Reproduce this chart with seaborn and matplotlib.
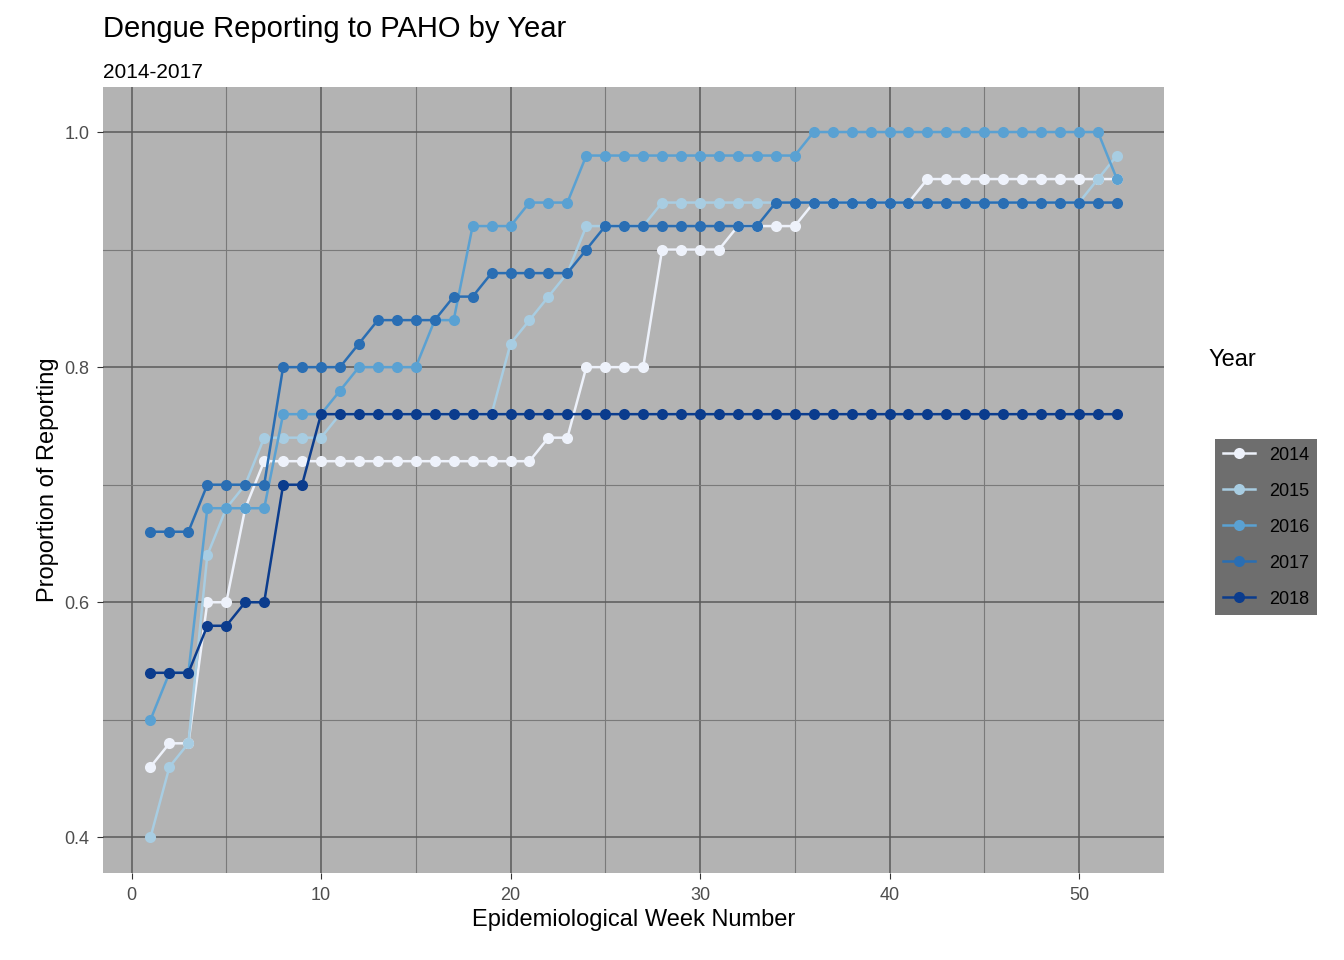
import pandas as pd
import numpy as np
import matplotlib.pyplot as plt
import seaborn as sns
from matplotlib.ticker import MultipleLocator

weeks = list(range(1, 53))
years = ["2014", "2015", "2016", "2017", "2018"]

p2014 = [.46, .48, .48, .60, .60, .68] + [.72] * 15 + [.74, .74] + [.80] * 4 + [.90] * 4 + [.92] * 4 + [.94] * 6 + [.96] * 11
p2015 = [.40, .46, .48, .64, .68, .70, .74, .74, .74, .74] + [.76] * 9 + [.82, .84, .86, .88] + [.92] * 4 + [.94] * 23 + [.96, .98]
p2016 = [.50, .54, .54, .68, .68, .68, .68, .76, .76, .76, .78, .80, .80, .80, .80, .84, .84, .92, .92, .92, .94, .94, .94] + [.98] * 12 + [1.0] * 16 + [.96]
p2017 = [.66] * 3 + [.70] * 4 + [.80] * 4 + [.82] + [.84] * 4 + [.86, .86] + [.88] * 5 + [.90] + [.92] * 9 + [.94] * 19
p2018 = [.54] * 3 + [.58, .58, .60, .60, .70, .70] + [.76] * 43

series = [p2014, p2015, p2016, p2017, p2018]
df = pd.DataFrame({
    "week": weeks * 5,
    "prop": [v for s in series for v in s],
    "Year": [y for y in years for _ in weeks],
})

colors = ["#eef2fb", "#a8cde2", "#5aa1d2", "#2a6eb3", "#0b3c8d"]

plt.rcParams['font.family'] = ['Liberation Sans', 'DejaVu Sans']
fig, ax = plt.subplots(figsize=(13.44, 9.6), dpi=100)
fig.subplots_adjust(left=0.077, right=0.866, top=0.909, bottom=0.091)
ax.set_facecolor("#b3b3b3")
sns.lineplot(data=df, x="week", y="prop", hue="Year", palette=colors, marker="o",
             markersize=8, markeredgewidth=0, linewidth=1.8, ax=ax)

ax.set_xlim(-1.48, 54.48)
ax.set_ylim(0.370, 1.038)
ax.xaxis.set_major_locator(MultipleLocator(10))
ax.xaxis.set_minor_locator(MultipleLocator(5))
ax.yaxis.set_minor_locator(MultipleLocator(0.1))
ax.set_yticks([0.4, 0.6, 0.8, 1.0])
ax.set_yticklabels(["0.4", "0.6", "0.8", "1.0"])
ax.grid(which="major", color="#5a5a5a", linewidth=1.1)
ax.grid(which="minor", color="#7a7a7a", linewidth=0.8)
ax.set_axisbelow(True)
for s in ax.spines.values():
    s.set_visible(False)
ax.tick_params(which="major", length=4, color="#333333", labelsize=13, labelcolor="#4d4d4d", pad=6)
ax.tick_params(which="minor", length=0)

ax.set_xlabel("Epidemiological Week Number", fontsize=17)
ax.set_ylabel("Proportion of Reporting", fontsize=17)
fig.text(0.077, 0.955, "Dengue Reporting to PAHO by Year", fontsize=21, va="bottom")
fig.text(0.077, 0.915, "2014-2017", fontsize=15, va="bottom")

leg = ax.legend(loc="center left", bbox_to_anchor=(1.04, 0.44),
                frameon=True, fontsize=13, handlelength=1.8,
                labelspacing=1.05, borderpad=0.4, fancybox=False)
leg.get_frame().set_facecolor("#6e6e6e")
leg.get_frame().set_edgecolor("none")
leg.get_frame().set_alpha(1)
fig.text(0.899, 0.614, "Year", fontsize=17, va="bottom")

plt.savefig("out.png", dpi=100)
